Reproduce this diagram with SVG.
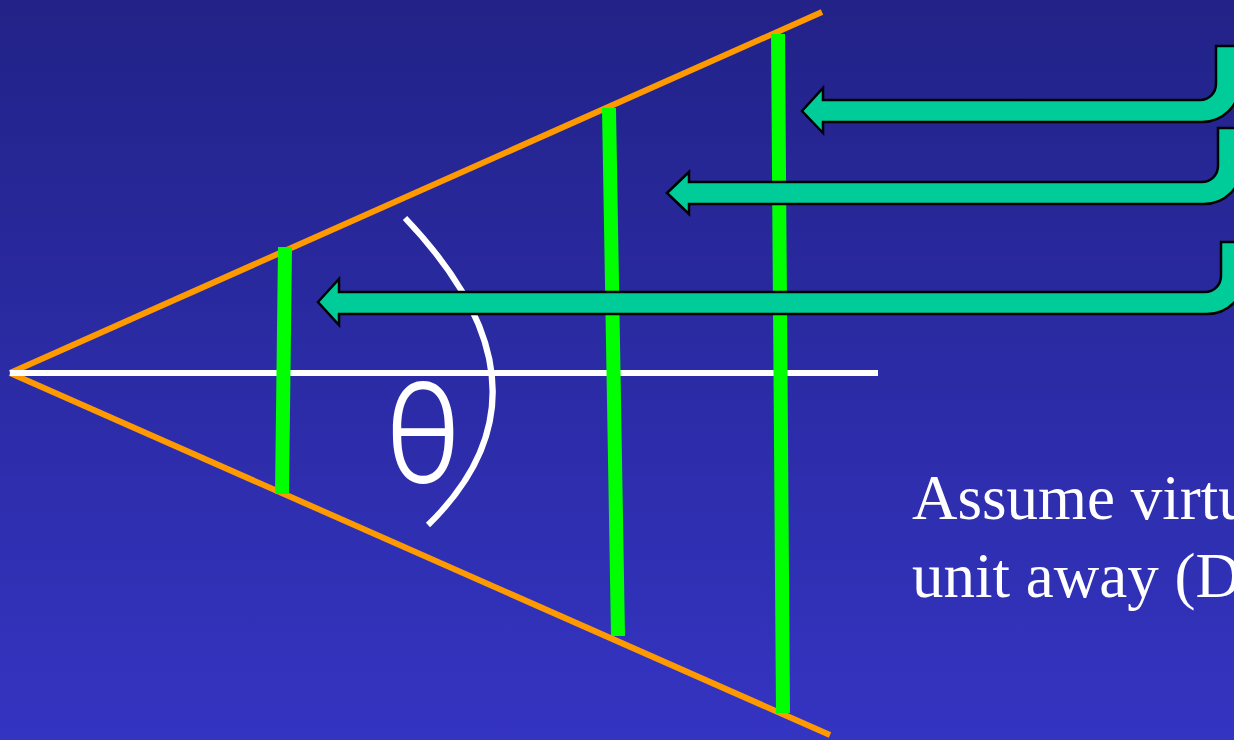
<svg xmlns="http://www.w3.org/2000/svg" width="1234" height="740" viewBox="0 0 1234 740">
  <defs>
    <linearGradient id="bg" x1="0" y1="0" x2="0" y2="1">
      <stop offset="0" stop-color="#222288"/>
      <stop offset="1" stop-color="#3434C2"/>
    </linearGradient>
  </defs>
  <style>
    .ray { stroke: #FF9900; stroke-width: 6; fill: none; }
    .axis { stroke: #FFFFFF; stroke-width: 6; fill: none; }
    .plane { stroke: #00FF00; stroke-width: 14; fill: none; }
    .arrow { fill: #00CC99; stroke: #000000; stroke-width: 2.5; stroke-linejoin: miter; }
    .label { fill: #FFFFFF; font-family: "Liberation Serif", "Times New Roman", serif; font-size: 63px; }
  </style>
  <rect x="0" y="0" width="1234" height="740" fill="url(#bg)"/>
  <g id="frustum">
    <line class="ray" x1="10" y1="373" x2="822" y2="12"/>
    <line class="ray" x1="10" y1="373" x2="830" y2="735"/>
    <line class="axis" x1="10" y1="373" x2="878" y2="373"/>
  </g>
  <g id="angle">
    <path class="axis" d="M405,218 Q568,389 428,525"/>
    <text x="423" y="483" text-anchor="middle" fill="#FFFFFF" font-family="Inter, Lato, 'Liberation Sans', sans-serif" font-weight="300" font-size="138" transform="translate(423 0) scale(0.9 1) translate(-423 0)">θ</text>
  </g>
  <g id="planes">
    <line id="plane1" class="plane" x1="285" y1="247" x2="282" y2="494"/>
    <line id="plane2" class="plane" x1="609" y1="108" x2="618" y2="636"/>
    <line id="plane3" class="plane" x1="778" y1="34" x2="783" y2="713"/>
  </g>
  <g id="connectors">
    <path id="arrow1" class="arrow" d="M802,111 L823,88 L823,100 L1200,100 A16,16 0 0 0 1216,84 L1216,46 L1240,46 L1240,84 A38,38 0 0 1 1202,122 L823,122 L823,133 Z"/>
    <path id="arrow2" class="arrow" d="M667,193 L689,172 L689,182 L1202,182 A16,16 0 0 0 1218,166 L1218,128 L1242,128 L1242,166 A38,38 0 0 1 1204,204 L689,204 L689,214 Z"/>
    <path id="arrow3" class="arrow" d="M318,302 L339,279 L339,292 L1205,292 A16,16 0 0 0 1221,276 L1221,242 L1245,242 L1245,276 A38,38 0 0 1 1207,314 L339,314 L339,325 Z"/>
  </g>
  <g id="caption">
    <text class="label" x="912" y="519">Assume virtu</text>
    <text class="label" x="912" y="597">unit away (D</text>
  </g>
</svg>
